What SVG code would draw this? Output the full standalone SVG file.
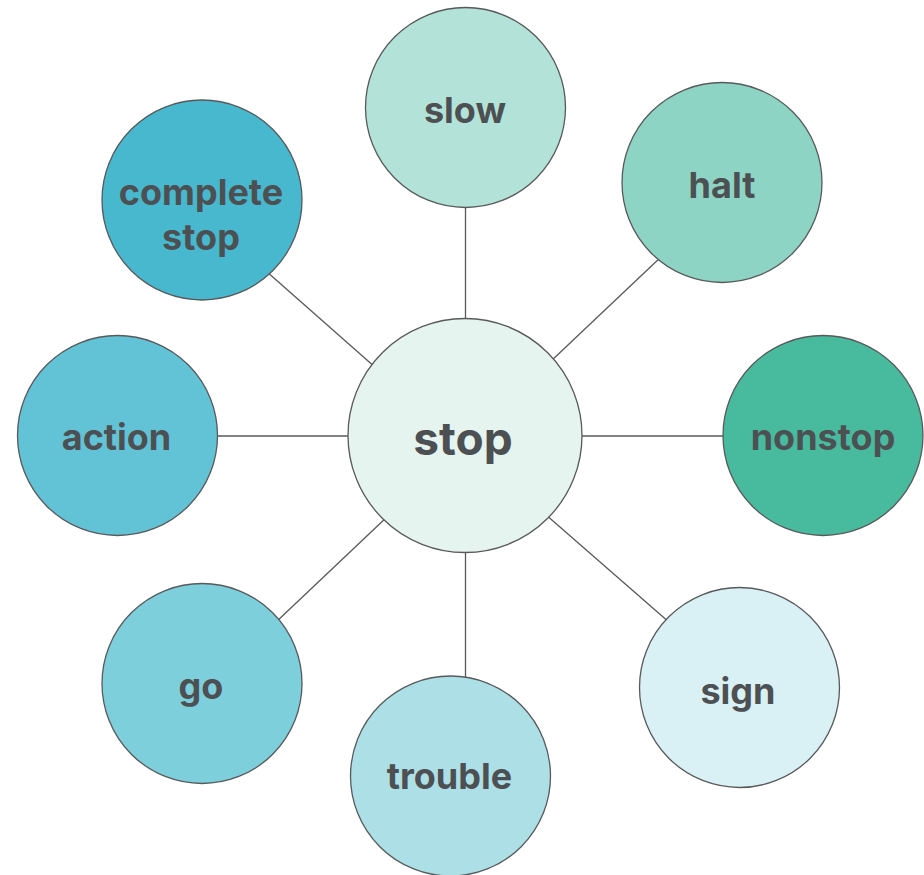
<svg xmlns="http://www.w3.org/2000/svg" width="924" height="875" viewBox="0 0 924 875">
<style>
.node{stroke:#58595b;stroke-width:1.3}
.lbl{font-family:Inter,"Noto Sans",sans-serif;font-weight:700;font-size:36px;fill:#4d5053;text-anchor:middle}
.big{font-size:46px}
.edge{stroke:#58595b;stroke-width:1.3;fill:none}
</style>
<rect width="924" height="875" fill="#ffffff"/>
<g id="connectors">
<line class="edge" x1="465.5" y1="200" x2="465.5" y2="325"/>
<line class="edge" x1="550" y1="362" x2="662" y2="256"/>
<line class="edge" x1="575" y1="436" x2="730" y2="436"/>
<line class="edge" x1="545" y1="514" x2="670" y2="623"/>
<line class="edge" x1="465.5" y1="545" x2="465.5" y2="682"/>
<line class="edge" x1="388" y1="516" x2="275" y2="623"/>
<line class="edge" x1="210" y1="436" x2="355" y2="436"/>
<line class="edge" x1="266" y1="271" x2="376" y2="368"/>
</g>
<g id="node-slow"><circle class="node" cx="465.5" cy="107.5" r="100" fill="#b3e3d8"/><text class="lbl" x="465" y="123">slow</text></g>
<g id="node-halt"><circle class="node" cx="722" cy="182.5" r="100" fill="#8dd4c4"/><text class="lbl" x="722" y="198">halt</text></g>
<g id="node-nonstop"><circle class="node" cx="823" cy="435.5" r="100" fill="#48bb9f"/><text class="lbl" x="823" y="450">nonstop</text></g>
<g id="node-sign"><circle class="node" cx="739.5" cy="687.5" r="100" fill="#d9f0f4"/><text class="lbl" x="738" y="704">sign</text></g>
<g id="node-trouble"><circle class="node" cx="450.5" cy="776" r="100" fill="#ade0e6"/><text class="lbl" x="449.5" y="789">trouble</text></g>
<g id="node-go"><circle class="node" cx="202" cy="683.5" r="100" fill="#7dcfdb"/><text class="lbl" x="201" y="699">go</text></g>
<g id="node-action"><circle class="node" cx="117.5" cy="435.5" r="100" fill="#63c3d6"/><text class="lbl" x="116.5" y="450">action</text></g>
<g id="node-complete-stop"><circle class="node" cx="202" cy="200" r="100" fill="#47b8cd"/><text class="lbl" x="201" y="205">complete</text><text class="lbl" x="201" y="250">stop</text></g>
<g id="node-stop"><circle class="node" cx="465" cy="435.5" r="117" fill="#e6f4f0"/><text class="lbl big" x="463" y="455">stop</text></g>
</svg>
